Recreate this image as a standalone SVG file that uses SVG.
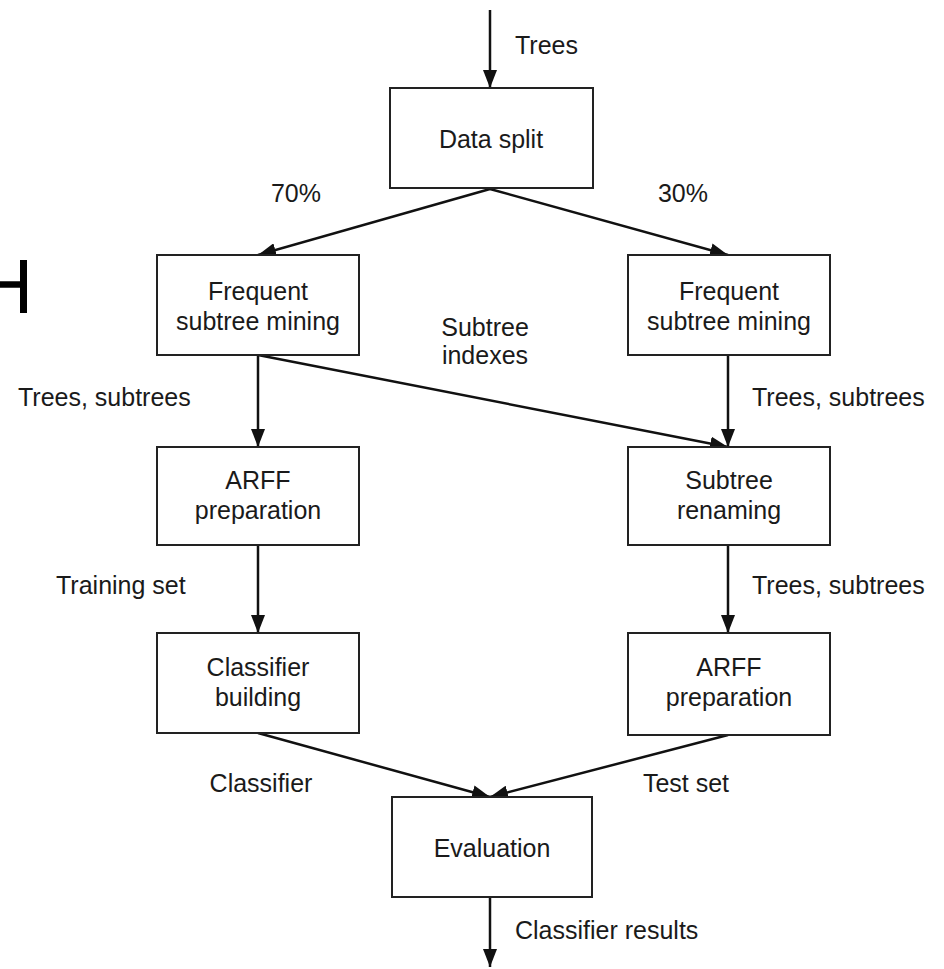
<svg xmlns="http://www.w3.org/2000/svg" width="944" height="969" viewBox="0 0 944 969">
<style>
.box{fill:#fff;stroke:#222;stroke-width:2}
.ln{fill:none;stroke:#111;stroke-width:2.5}
text{font-family:"Liberation Sans",Arial,sans-serif;font-size:25px;fill:#1a1a1a}
.c{text-anchor:middle}
</style>
<defs>
<marker id="ah" viewBox="0 0 18 14" refX="18" refY="7" markerWidth="18" markerHeight="14" markerUnits="userSpaceOnUse" orient="auto">
<path d="M0,0 L18,7 L0,14 Z" fill="#111"/>
</marker>
</defs>
<rect width="944" height="969" fill="#fff"/>
<g id="mark">
<line x1="0" y1="284.5" x2="24" y2="284.5" stroke="#000" stroke-width="6.5"/>
<line x1="23.5" y1="260" x2="23.5" y2="313" stroke="#000" stroke-width="7"/>
</g>
<g id="connectors">
<line class="ln" x1="490" y1="10" x2="490" y2="88" marker-end="url(#ah)"/>
<line class="ln" x1="490" y1="189" x2="258" y2="255" marker-end="url(#ah)"/>
<line class="ln" x1="490" y1="189" x2="728" y2="255" marker-end="url(#ah)"/>
<line class="ln" x1="258" y1="355" x2="258" y2="447" marker-end="url(#ah)"/>
<line class="ln" x1="728" y1="355" x2="728" y2="447" marker-end="url(#ah)"/>
<line class="ln" x1="258" y1="355" x2="728" y2="447" marker-end="url(#ah)"/>
<line class="ln" x1="258" y1="545" x2="258" y2="633" marker-end="url(#ah)"/>
<line class="ln" x1="728" y1="545" x2="728" y2="633" marker-end="url(#ah)"/>
<line class="ln" x1="258" y1="733" x2="490" y2="797" marker-end="url(#ah)"/>
<line class="ln" x1="728" y1="735" x2="490" y2="797" marker-end="url(#ah)"/>
<line class="ln" x1="490" y1="897" x2="490" y2="967" marker-end="url(#ah)"/>
<text x="515" y="54">Trees</text>
<text x="296" y="202" class="c">70%</text>
<text x="683" y="202" class="c">30%</text>
<text x="485" y="336" class="c">Subtree</text>
<text x="485" y="364" class="c">indexes</text>
<text x="18" y="406">Trees, subtrees</text>
<text x="752" y="406">Trees, subtrees</text>
<text x="56" y="594">Training set</text>
<text x="752" y="594">Trees, subtrees</text>
<text x="261" y="792" class="c">Classifier</text>
<text x="686" y="792" class="c">Test set</text>
<text x="515" y="939">Classifier results</text>
</g>
<g id="data-split">
<rect class="box" x="390" y="88" width="203" height="100"/>
<text x="491" y="148" class="c">Data split</text>
</g>
<g id="fsm-left">
<rect class="box" x="157" y="255" width="202" height="100"/>
<text x="258" y="300" class="c">Frequent</text>
<text x="258" y="330" class="c">subtree mining</text>
</g>
<g id="fsm-right">
<rect class="box" x="628" y="255" width="202" height="100"/>
<text x="729" y="300" class="c">Frequent</text>
<text x="729" y="330" class="c">subtree mining</text>
</g>
<g id="arff-left">
<rect class="box" x="157" y="447" width="202" height="98"/>
<text x="258" y="489" class="c">ARFF</text>
<text x="258" y="519" class="c">preparation</text>
</g>
<g id="subtree-renaming">
<rect class="box" x="628" y="447" width="202" height="98"/>
<text x="729" y="489" class="c">Subtree</text>
<text x="729" y="519" class="c">renaming</text>
</g>
<g id="classifier-building">
<rect class="box" x="157" y="633" width="202" height="100"/>
<text x="258" y="676" class="c">Classifier</text>
<text x="258" y="706" class="c">building</text>
</g>
<g id="arff-right">
<rect class="box" x="628" y="633" width="202" height="102"/>
<text x="729" y="676" class="c">ARFF</text>
<text x="729" y="706" class="c">preparation</text>
</g>
<g id="evaluation">
<rect class="box" x="392" y="797" width="200" height="100"/>
<text x="492" y="857" class="c">Evaluation</text>
</g>
</svg>
